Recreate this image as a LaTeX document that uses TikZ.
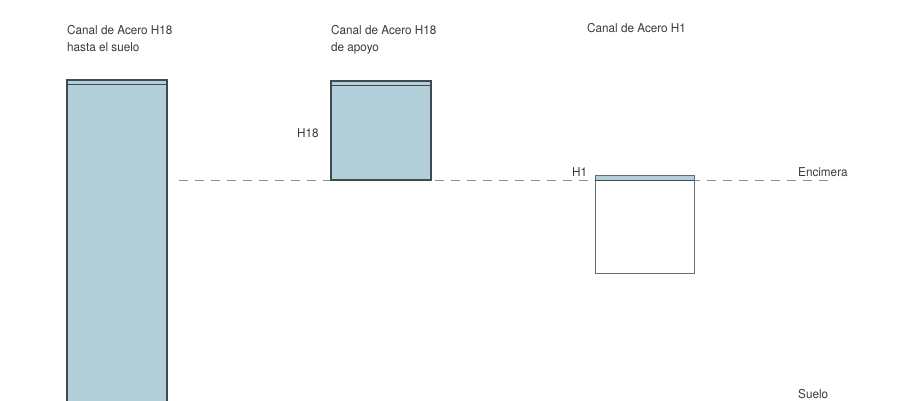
\documentclass[tikz,border=0pt]{standalone}
\usepackage{fontspec}
\setmainfont[FakeStretch=0.96]{TeX Gyre Heros}
\definecolor{steel}{HTML}{B3CFD9}
\definecolor{edge}{HTML}{3E4B50}
\definecolor{txt}{HTML}{3A3A3A}
\definecolor{dash}{HTML}{8C8C8C}
\begin{document}
\begin{tikzpicture}[x=1pt,y=-1pt,
  lbl/.style={anchor=base west,inner sep=0pt,text=txt,font=\fontsize{12.2}{17}\selectfont},
  chan/.style={fill=steel,draw=edge,line width=1.1pt},
  box/.style={draw=edge!80,line width=0.9pt},
  level/.style={draw=dash,line width=0.9pt,dash pattern=on 9pt off 7pt}]
\useasboundingbox (0,0) rectangle (900,400);
\fill[white] (0,0) rectangle (900,400);
% level line
\coordinate (L0) at (179,180);
\coordinate (L1) at (832,180);
\draw[level] (L0) -- (L1);
% left tall channel
\draw[chan] (67,402) -- (67,80) -- (167,80) -- (167,402);
\draw[edge,line width=0.9pt] (67,84) -- (167,84);
% middle channel
\draw[chan] (331,81) rectangle (431,180);
\draw[edge,line width=0.9pt] (331,85) -- (431,85);
% right box
\fill[steel] (595.5,175.5) rectangle (693.5,180);
\draw[box] (595,175) rectangle (694,273);
\draw[edge,line width=0.9pt] (595,180) -- (694,180);
% labels
\node[lbl] (t1a) at (67,34) {Canal de Acero H18};
\node[lbl] (t1b) at (67,51) {hasta el suelo};
\node[lbl] (t2a) at (331,34) {Canal de Acero H18};
\node[lbl] (t2b) at (331,51) {de apoyo};
\node[lbl] (t3) at (587,32) {Canal de Acero H1};
\node[lbl] (h18) at (297,137) {H18};
\node[lbl] (h1) at (572,176) {H1};
\node[lbl] (enc) at (798,176) {Encimera};
\node[lbl] (sue) at (798,398) {Suelo};
\end{tikzpicture}
\end{document}
